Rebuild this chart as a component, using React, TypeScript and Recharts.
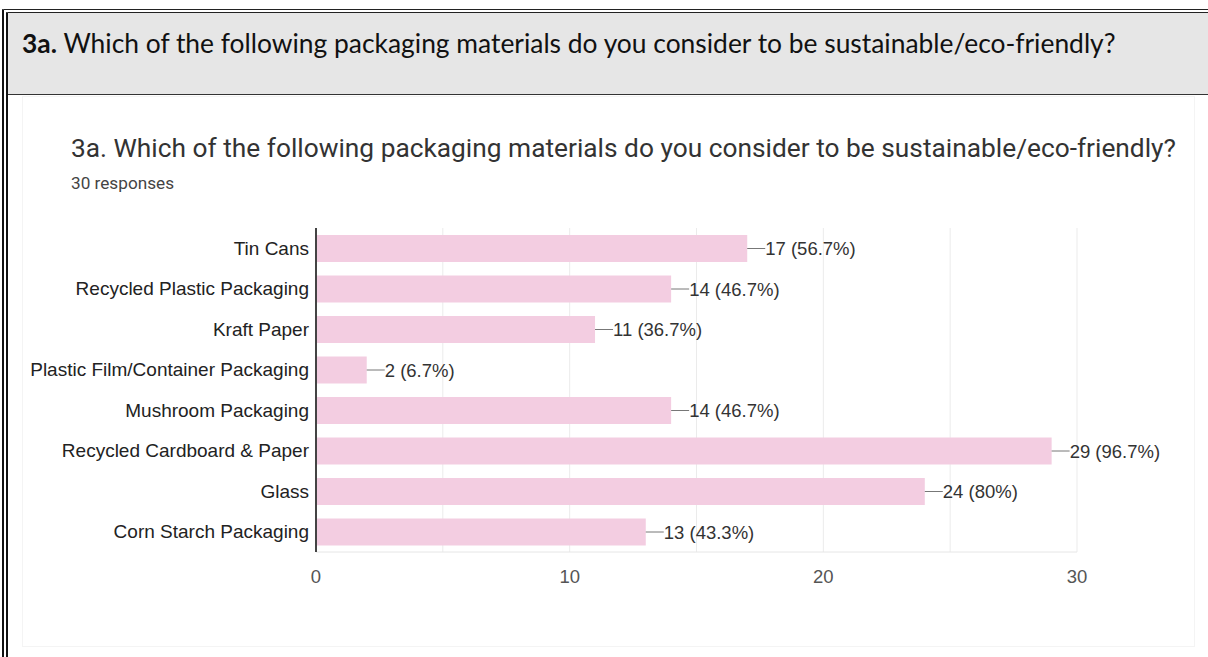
import React from "react";
import { BarChart, Bar, XAxis, YAxis, CartesianGrid, LabelList } from "recharts";

const categories = [
  "Tin Cans",
  "Recycled Plastic Packaging",
  "Kraft Paper",
  "Plastic Film/Container Packaging",
  "Mushroom Packaging",
  "Recycled Cardboard & Paper",
  "Glass",
  "Corn Starch Packaging",
];
const counts = [17, 14, 11, 2, 14, 29, 24, 13];
const totalResponses = 30;
const xTicks = [0, 5, 10, 15, 20, 25, 30];
const labeledTicks = [0, 10, 20, 30];

const headerText = "Which of the following packaging materials do you consider to be sustainable/eco-friendly?";
const chartTitle = "3a. Which of the following packaging materials do you consider to be sustainable/eco-friendly?";

const data = categories.map((c, i) => ({ name: c, value: counts[i] }));

const fmtPct = (v: number) => {
  const p = (v / totalResponses) * 100;
  const s = p.toFixed(1);
  return s.endsWith(".0") ? s.slice(0, -2) : s;
};

const FONT = "'Liberation Sans', Arial, sans-serif";

const BarLabel = (props: any) => {
  const { x, y, width, height, value } = props;
  const ex = x + width;
  const cy = y + height / 2;
  return (
    <g>
      <line x1={ex} y1={cy} x2={ex + 18} y2={cy} stroke="#777" strokeWidth={1} />
      <text x={ex + 18} y={cy} dy="0.36em" fontSize={18.5} fill="#333" fontFamily={FONT}>
        {`${value} (${fmtPct(value)}%)`}
      </text>
    </g>
  );
};

const XTick = (props: any) => {
  const { x, y, payload } = props;
  if (!labeledTicks.includes(payload.value)) return null;
  return (
    <text x={x} y={y + 23} textAnchor="middle" fontSize={18.5} fill="#555" fontFamily={FONT}>
      {payload.value}
    </text>
  );
};

export default function App() {
  return (
    <div style={{ position: "absolute", left: 0, top: 0, width: 1208, height: 657, background: "#fff", overflow: "hidden" }}>
      {/* outer frame */}
      <div style={{ position: "absolute", left: 2, top: 9, width: 1220, height: 700, borderLeft: "6px double #111", borderTop: "4px double #222", boxSizing: "border-box" }} />
      {/* header */}
      <div style={{ position: "absolute", left: 8, top: 13, width: 1210, height: 82, background: "#e6e6e6", borderBottom: "1.5px solid #333", boxSizing: "border-box" }}>
        <div style={{ position: "absolute", left: 14, top: 14, fontFamily: "Lato, 'Open Sans', sans-serif", fontSize: 26.4, color: "#111", whiteSpace: "nowrap" }}>
          <b>3a.</b> {headerText}
        </div>
      </div>
      {/* chart card */}
      <div style={{ position: "absolute", left: 22, top: 96, width: 1173, height: 551, border: "1px solid #f4f4f4", boxSizing: "border-box" }} />
      <div style={{ position: "absolute", left: 71, top: 133, fontFamily: "Roboto, 'Noto Sans', sans-serif", fontSize: 26.3, color: "#333", whiteSpace: "nowrap" }}>
        {chartTitle}
      </div>
      <div style={{ position: "absolute", left: 71, top: 173, fontFamily: "Roboto, 'Noto Sans', sans-serif", fontSize: 17.2, color: "#444", whiteSpace: "nowrap" }}>
        30 responses
      </div>
      <div style={{ position: "absolute", left: 0, top: 200 }}>
        <BarChart
          width={1208}
          height={400}
          data={data}
          layout="vertical"
          margin={{ top: 28, right: 131, bottom: 18, left: 0 }}
          barCategoryGap={7}
        >
          <CartesianGrid horizontal={false} stroke="#ebebeb" strokeDasharray="" />
          <XAxis
            type="number"
            dataKey="value"
            domain={[0, 30]}
            ticks={xTicks}
            interval={0}
            tick={<XTick />}
            tickLine={false}
            axisLine={{ stroke: "#e6e6e6" }}
            height={30}
          />
          <XAxis
            xAxisId="top"
            type="number"
            orientation="top"
            domain={[0, 30]}
            ticks={xTicks}
            tick={false}
            tickLine={false}
            axisLine={{ stroke: "#e6e6e6" }}
            height={0}
          />
          <YAxis
            type="category"
            dataKey="name"
            width={316}
            tickLine={false}
            tickSize={7}
            tickMargin={0}
            axisLine={{ stroke: "#444", strokeWidth: 2 }}
            tick={{ fontSize: 19, fill: "#222", fontFamily: FONT }}
            interval={0}
          />
          <Bar dataKey="value" fill="#f3cde1" isAnimationActive={false}>
            <LabelList dataKey="value" content={<BarLabel />} />
          </Bar>
        </BarChart>
      </div>
    </div>
  );
}
